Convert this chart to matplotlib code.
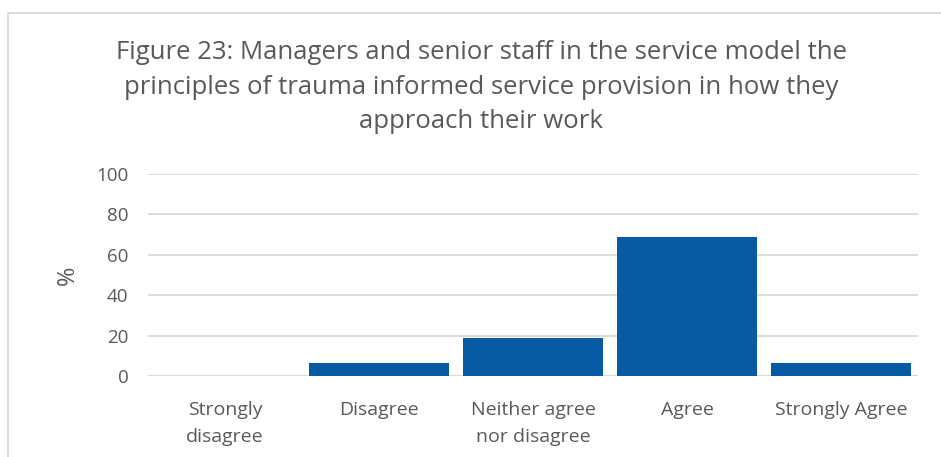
import matplotlib.pyplot as plt
from matplotlib.patches import Rectangle

categories = ["Strongly\ndisagree", "Disagree", "Neither agree\nnor disagree", "Agree", "Strongly Agree"]
percent = [0, 6.25, 18.75, 68.75, 6.25]
yticks = [0, 20, 40, 60, 80, 100]

title = ("Figure 23: Managers and senior staff in the service model the\n"
         "principles of trauma informed service provision in how they\n"
         "approach their work")

plt.rcParams['font.family'] = ['Open Sans', 'DejaVu Sans']
grey = '#595959'

fig = plt.figure(figsize=(9.41, 4.57), dpi=100)
ax = fig.add_axes([148 / 941, 1 - 376 / 457, (918 - 148) / 941, (376 - 174) / 457])

x = range(len(categories))
ax.bar(x, percent, width=0.91, color='#085AA3', zorder=3)
ax.set_xlim(-0.5, len(categories) - 0.5)
ax.set_ylim(0, 100)
ax.set_yticks(yticks)
ax.set_xticks(list(x))
ax.set_xticklabels(categories, fontsize=14, color=grey, linespacing=1.65)
ax.tick_params(axis='y', labelsize=13.5, labelcolor=grey, length=0, pad=14)
ax.tick_params(axis='x', length=0, pad=18)
ax.yaxis.grid(True, color='#d9d9d9', linewidth=1.3, zorder=0)
for s in ax.spines.values():
    s.set_visible(False)
ax.axhline(0, color='#d9d9d9', linewidth=1.3, zorder=2)
ax.set_ylabel('%', fontsize=17, color=grey, labelpad=12)

fig.text(481 / 941, 1 - 87 / 457, title, ha='center', va='center',
         fontsize=18.5, color=grey, linespacing=1.48)

# chart-area border: only top and left edges fall inside the image
fig.patches.append(Rectangle((8 / 941, -0.05), 1.0, 1 - 13 / 457 + 0.05,
                             transform=fig.transFigure, fill=False,
                             edgecolor='#d9d9d9', linewidth=1.3))

fig.savefig('out.png', dpi=100)
